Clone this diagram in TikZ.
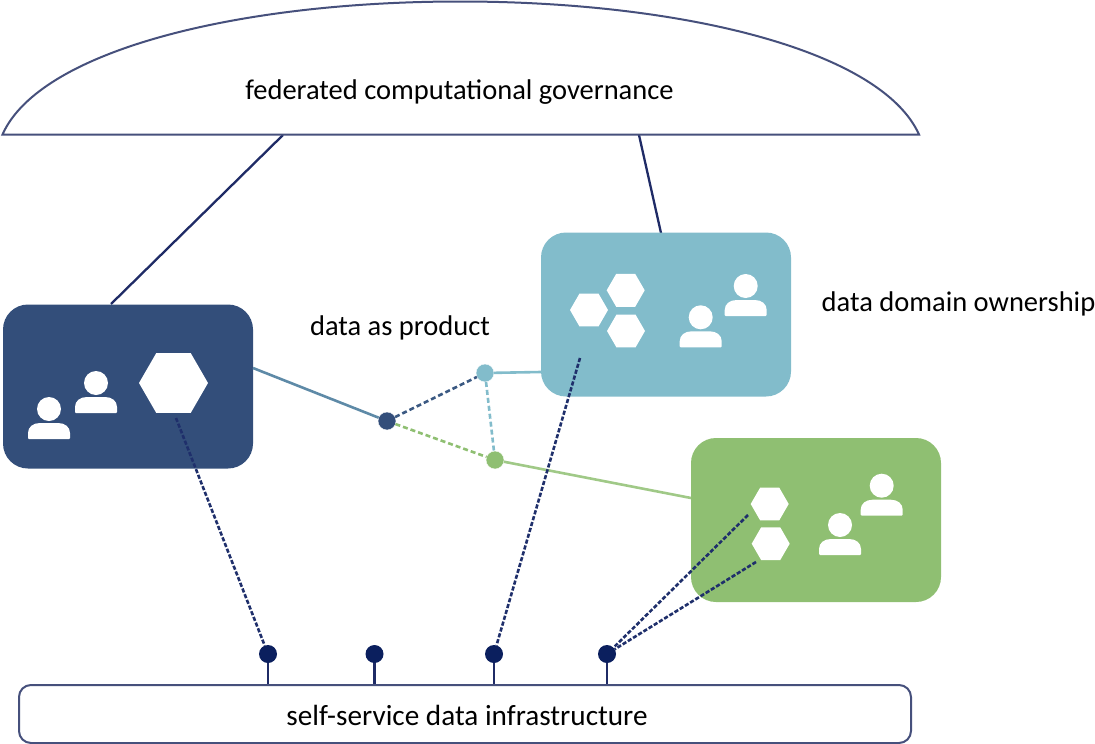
\documentclass[tikz,border=0pt]{standalone}
\usepackage{fontspec}
\setmainfont{Carlito}
\usetikzlibrary{shapes.geometric}
\definecolor{cblue}{HTML}{334E7A}
\definecolor{cteal}{HTML}{82BCCB}
\definecolor{cgreen}{HTML}{8FBF72}
\definecolor{cdot}{HTML}{0B1F5E}
\definecolor{cdash}{HTML}{1F2F6B}
\definecolor{coutline}{HTML}{46507C}
\definecolor{cline}{HTML}{1F2B66}
\tikzset{
  x=1pt,y=-1pt,
  domainbox/.style={rounded corners=25pt,minimum width=250pt,minimum height=164pt,inner sep=0pt,outer sep=0pt,draw=none},
  hexa/.style={regular polygon,regular polygon sides=6,fill=white,draw=none,inner sep=0pt,outer sep=0pt,minimum size=#1},
  dotn/.style={circle,minimum size=18pt,inner sep=0pt,outer sep=0pt,draw=white,line width=.4pt},
  label/.style={font=\fontsize{28.5pt}{32pt}\selectfont,text=black,inner sep=0pt,anchor=base},
  gov/.style={draw=cline,line width=2.3pt},
  dashlink/.style={draw=cdash,line width=2.6pt,dash pattern=on 4.2pt off 1.9pt},
  softdash/.style={line width=2.6pt,dash pattern=on 5pt off 3pt},
  solidlink/.style={line width=2.6pt},
  stem/.style={draw=cline,line width=2.4pt},
}
\newcommand{\person}[2]{%
  \fill[white] (#1,#2) circle[radius=12];
  \fill[white,rounded corners=1pt] (#1-21,#2+30) -- (#1-21,#2+25)
    .. controls (#1-21,#2+18) and (#1-16,#2+14) .. (#1-8,#2+14)
    -- (#1+8,#2+14)
    .. controls (#1+16,#2+14) and (#1+21,#2+18) .. (#1+21,#2+25)
    -- (#1+21,#2+30) -- cycle;
}
\begin{document}
\begin{tikzpicture}
\useasboundingbox (0,0) rectangle (1095,744);
% attachment points
\coordinate (govL) at (283,135);
\coordinate (govR) at (639,135);
\coordinate (blueTop) at (111,304);
\coordinate (tealTop) at (661,233);
\coordinate (blueEdge) at (253,368);
\coordinate (tealEdge) at (541,372);
\coordinate (greenEdge) at (691,498);
\coordinate (hexBlue) at (176,418);
\coordinate (hexTeal) at (580,358);
\coordinate (hexGreenA) at (748,515);
\coordinate (hexGreenB) at (756,562);
% governance
\draw[gov] (govL) -- (blueTop);
\draw[gov] (govR) -- (tealTop);
\draw[draw=coutline,line width=2pt,fill=white] (2.5,134.5)
  .. controls (40,50) and (240,1.5) .. (460,1.5)
  .. controls (681,1.5) and (881,50) .. (919,134.5) -- cycle;
\node[label] (govtext) at (459.5,99) {federated computational governance};
% boxes
\node[domainbox,fill=cblue] (bluebox) at (128,386.5) {};
\node[domainbox,fill=cteal] (tealbox) at (666,314.5) {};
\node[domainbox,fill=cgreen] (greenbox) at (816,520) {};
% infrastructure
\node[draw=coutline,line width=2pt,rounded corners=12pt,fill=white,minimum width=892pt,minimum height=58pt,inner sep=0pt] (infra) at (465,714) {};
\node[label,font=\fontsize{29.2pt}{32pt}\selectfont] (infratext) at (467,725) {self-service data infrastructure};
% icons
\node[hexa=69pt] (hb) at (173.5,383) {};
\person{49}{409}\person{96}{383}
\node[hexa=38pt] (ht1) at (589,310) {};
\node[hexa=38pt] (ht2) at (625.7,290.3) {};
\node[hexa=38pt] (ht3) at (626,331) {};
\person{700.7}{317.3}\person{745.7}{286}
\node[hexa=38pt] (hg1) at (769.7,504) {};
\node[hexa=38pt] (hg2) at (770.7,543.7) {};
\person{840}{525}\person{881.7}{485.7}
% product dots
\node[dotn,fill=cblue] (dblue) at (387,421) {};
\node[dotn,fill=cteal] (dteal) at (485,373) {};
\node[dotn,fill=cgreen] (dgreen) at (495,460) {};
\draw[solidlink,draw=cblue!45!cteal] (blueEdge) -- (dblue);
\draw[solidlink,draw=cteal] (dteal) -- (tealEdge);
\draw[solidlink,draw=cgreen!85!white] (dgreen) -- (greenEdge);
\draw[softdash,draw=cblue!90!cteal] (dblue) -- (dteal);
\draw[softdash,draw=cgreen] (dblue) -- (dgreen);
\draw[softdash,draw=cteal] (dteal) -- (dgreen);
% infrastructure ports
\node[dotn,fill=cdot,draw=none] (p1) at (268,654) {};
\node[dotn,fill=cdot,draw=none] (p2) at (374.5,654) {};
\node[dotn,fill=cdot,draw=none] (p3) at (494,654) {};
\node[dotn,fill=cdot,draw=none] (p4) at (607,654) {};
\foreach \p in {p1,p2,p3,p4}{\draw[stem] (\p) -- (\p |- infra.north);}
\draw[dashlink] (hexBlue) -- (p1);
\draw[dashlink] (hexTeal) -- (p3);
\draw[dashlink] (hexGreenA) -- (p4);
\draw[dashlink] (hexGreenB) -- (p4);
% labels
\node[label] (product) at (400,335) {data as product};
\node[label] (owner) at (958.5,311) {data domain ownership};
\end{tikzpicture}
\end{document}
